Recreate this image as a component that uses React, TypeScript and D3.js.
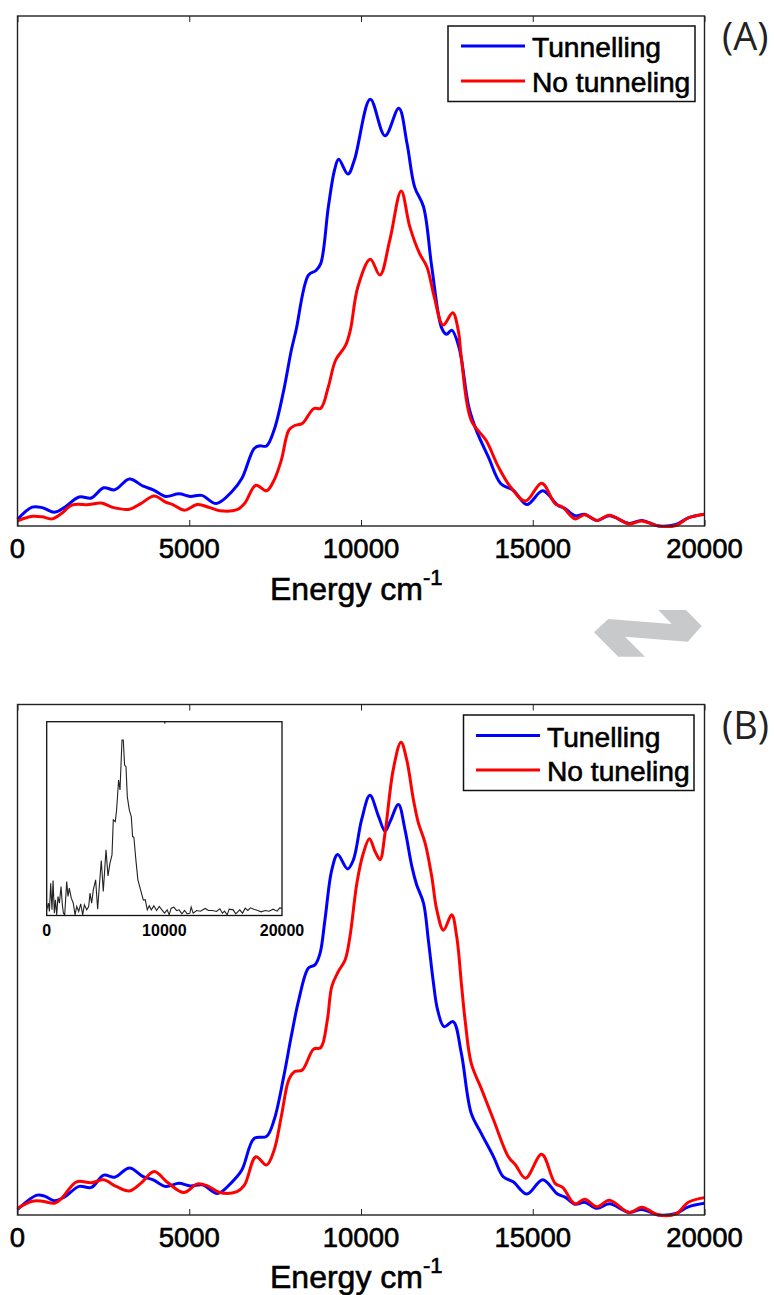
import React, { useEffect, useRef } from "react";
import * as d3 from "d3";

const xTicks = [0, 5000, 10000, 15000, 20000];
const insetTicks = [0, 10000, 20000];

const blueAEnergy = [0, 430, 720, 1080, 1360, 1795, 2150, 2510, 2830, 3260, 3660, 3950, 4310, 4700, 5030, 5360, 5790, 6250, 6530, 6890, 7040, 7250, 7470, 7750, 7970, 8110, 8470, 8690, 8830, 9050, 9230, 9350, 9620, 9810, 10270, 10700, 11100, 11340, 11560, 11820, 12060, 12350, 12490, 12640, 12850, 13140, 13355, 13710, 14070, 14430, 14830, 15290, 15720, 15940, 16230, 16510, 16870, 17230, 17810, 18170, 18670, 19170, 19530, 20000];
const blueAValue = [.013, .037, .036, .027, .036, .057, .055, .075, .071, .092, .078, .071, .058, .063, .058, .06, .044, .068, .093, .152, .157, .157, .188, .266, .344, .384, .492, .501, .515, .626, .698, .719, .69, .718, .837, .765, .819, .75, .665, .626, .508, .388, .376, .384, .351, .233, .188, .135, .083, .07, .042, .069, .041, .034, .02, .023, .011, .02, .005, .011, 0, .003, .016, .023];

const redAEnergy = [0, 430, 720, 1005, 1290, 1580, 2080, 2440, 2800, 3260, 3590, 3980, 4310, 4520, 4850, 5240, 5600, 5890, 6390, 6610, 6940, 7250, 7470, 7680, 7900, 8070, 8290, 8620, 8830, 9050, 9260, 9550, 9690, 9910, 10270, 10550, 10840, 11170, 11420, 11700, 11920, 12130, 12390, 12670, 12830, 12920, 13210, 13640, 14000, 14360, 14790, 15260, 15650, 15870, 16230, 16510, 16870, 17230, 17810, 18170, 18670, 19170, 19530, 20000];
const redAValue = [.01, .019, .018, .014, .025, .041, .042, .045, .036, .033, .044, .059, .047, .042, .031, .042, .036, .03, .032, .044, .08, .069, .09, .129, .188, .197, .201, .23, .231, .273, .325, .354, .384, .469, .523, .492, .561, .657, .587, .535, .508, .45, .394, .418, .384, .331, .207, .168, .116, .076, .049, .084, .044, .037, .014, .022, .011, .021, .004, .01, 0, .001, .016, .023];

const blueBEnergy = [0, 570, 790, 1080, 1360, 1795, 2150, 2510, 2830, 3260, 3660, 3950, 4310, 4700, 5030, 5390, 5820, 6250, 6530, 6890, 7250, 7470, 7750, 7970, 8190, 8470, 8660, 8810, 8950, 9150, 9320, 9610, 9780, 10020, 10260, 10510, 10700, 10850, 11090, 11280, 11480, 11620, 11820, 11960, 12110, 12230, 12420, 12680, 12920, 13210, 13500, 13860, 14140, 14430, 14830, 15290, 15720, 15940, 16230, 16510, 16870, 17230, 17810, 18170, 18670, 19170, 19530, 20000];
const blueBValue = [.011, .039, .037, .028, .035, .056, .054, .078, .074, .092, .075, .069, .056, .062, .057, .059, .042, .065, .088, .15, .154, .186, .271, .35, .422, .484, .49, .513, .578, .676, .706, .678, .696, .775, .822, .781, .752, .771, .804, .755, .683, .647, .611, .539, .454, .402, .369, .379, .317, .199, .16, .114, .075, .065, .041, .069, .041, .035, .021, .025, .013, .022, .005, .011, 0, .003, .016, .023];

const redBEnergy = [0, 430, 720, 1080, 1290, 1720, 2150, 2510, 2870, 3260, 3590, 3980, 4380, 4840, 5240, 5530, 5890, 6390, 6610, 6940, 7250, 7470, 7680, 7900, 8070, 8290, 8620, 8830, 9020, 9150, 9340, 9540, 9680, 9880, 10070, 10245, 10410, 10555, 10700, 10940, 11165, 11330, 11525, 11670, 11865, 12060, 12205, 12400, 12640, 12785, 12930, 13030, 13210, 13500, 13860, 14290, 14500, 14790, 15260, 15650, 15870, 16230, 16510, 16870, 17230, 17810, 18170, 18670, 19170, 19530, 20000];
const redBValue = [.013, .027, .027, .023, .033, .065, .063, .069, .056, .047, .062, .085, .063, .044, .061, .057, .044, .046, .059, .114, .098, .127, .193, .265, .281, .284, .325, .328, .382, .448, .477, .5, .546, .65, .709, .737, .712, .696, .748, .873, .926, .892, .814, .768, .729, .663, .598, .558, .588, .546, .448, .382, .297, .248, .186, .114, .098, .072, .119, .062, .054, .022, .031, .016, .029, .005, .015, 0, .002, .025, .034];

const insetEnergy = [0, 140, 230, 340, 450, 540, 650, 740, 850, 960, 1080, 1220, 1330, 1420, 1530, 1700, 1810, 1920, 2090, 2260, 2410, 2550, 2720, 2890, 3060, 3200, 3400, 3570, 3680, 3820, 3960, 4160, 4330, 4470, 4640, 4810, 5040, 5210, 5380, 5550, 5660, 5830, 5940, 6110, 6230, 6400, 6510, 6620, 6740, 6850, 7020, 7190, 7300, 7410, 7580, 7750, 7980, 8210, 8380, 8550, 8720, 8890, 9110, 9340, 9570, 9790, 10020, 10240, 10410, 10580, 10810, 11040, 11260, 11490, 11720, 11940, 12170, 12280, 12450, 12740, 13070, 13470, 13750, 14090, 14430, 14720, 14940, 15110, 15340, 15510, 15850, 16070, 16410, 16640, 16870, 17090, 17320, 17600, 17940, 18230, 18560, 18900, 19240, 19580, 19810, 20000];
const insetValue = [17, 37, 12, 97, 17, 105, 7, 47, 2, 57, 37, 87, 32, 7, 2, 102, 57, 82, 52, 37, 2, 27, 12, 35, 2, 32, 17, 27, 67, 37, 77, 107, 19, 87, 165, 72, 197, 119, 157, 182, 287, 282, 317, 407, 377, 527, 527, 452, 447, 357, 317, 297, 237, 235, 167, 107, 77, 47, 47, 17, 29, 17, 29, 15, 27, 17, 7, 17, 2, 22, 25, 15, 17, 5, 15, 5, 7, 25, 7, 15, 13, 21, 15, 15, 12, 20, 7, 13, 2, 19, 17, 5, 17, 7, 22, 15, 23, 19, 15, 11, 15, 13, 19, 13, 23, 22];

const legendA = ["Tunnelling", "No tunneling"];
const legendB = ["Tunelling", "No tuneling"];
const BLUE = "#0000ff";
const RED = "#ff0000";
const FRAME = "#222";
const SANS = "'Liberation Sans', Arial, sans-serif";

type Panel = {
  top: number;
  bottom: number;
  blue: [number[], number[]];
  red: [number[], number[]];
  legend: string[];
  box: number[];
  lineX: number[];
  textX: number;
  rows: number[];
  tag: string;
  tickY: number;
  labelY: number;
};

const panels: Panel[] = [
  { top: 16, bottom: 526, blue: [blueAEnergy, blueAValue], red: [redAEnergy, redAValue], legend: legendA, box: [448, 26, 695, 101.5], lineX: [461, 525], textX: 532, rows: [46, 81], tag: "(A)", tickY: 558, labelY: 600 },
  { top: 704.5, bottom: 1215, blue: [blueBEnergy, blueBValue], red: [redBEnergy, redBValue], legend: legendB, box: [463.5, 715, 694, 790.5], lineX: [476, 540], textX: 547, rows: [735.5, 770], tag: "(B)", tickY: 1247, labelY: 1288 },
];

function App() {
  const svgRef = useRef<SVGSVGElement>(null);

  useEffect(() => {
    const svg = d3.select(svgRef.current);
    svg.selectAll("*").remove();

    const x = d3.scaleLinear().domain([0, 20000]).range([17.5, 704.5]);

    panels.forEach((p) => {
      const y = d3.scaleLinear().domain([0, 1]).range([p.bottom, p.top]);
      const g = svg.append("g");
      const line = d3.line<number>()
        .x((d) => x(d))
        .curve(d3.curveCatmullRom.alpha(0.5));

      [[p.blue, BLUE], [p.red, RED]].forEach(([s, color]: any) => {
        line.y((_, i) => y(s[1][i]));
        g.append("path").attr("d", line(s[0])).attr("fill", "none")
          .attr("stroke", color).attr("stroke-width", 3);
      });

      g.append("rect")
        .attr("x", x(0)).attr("y", p.top)
        .attr("width", x(20000) - x(0)).attr("height", p.bottom - p.top)
        .attr("fill", "none").attr("stroke", FRAME).attr("stroke-width", 1.4);

      const bottomAxis = g.append("g").attr("transform", `translate(0,${p.bottom})`)
        .call(d3.axisBottom(x).tickValues(xTicks).tickSize(-6).tickFormat(d3.format("d")));
      bottomAxis.select(".domain").remove();
      bottomAxis.selectAll("line").attr("stroke", FRAME);
      bottomAxis.selectAll("text").remove();

      const topAxis = g.append("g").attr("transform", `translate(0,${p.top})`)
        .call(d3.axisTop(x).tickValues(xTicks).tickSize(-6).tickFormat(() => ""));
      topAxis.select(".domain").remove();
      topAxis.selectAll("line").attr("stroke", FRAME);

      xTicks.forEach((t) => {
        g.append("text").attr("x", x(t)).attr("y", p.tickY)
          .attr("text-anchor", "middle").attr("font-family", SANS)
          .attr("font-size", 27.5).attr("stroke", "#000").attr("stroke-width", 0.6)
          .text(t);
      });

      const label = g.append("text").attr("x", 270).attr("y", p.labelY)
        .attr("font-family", SANS).attr("font-size", 32)
        .attr("stroke", "#000").attr("stroke-width", 0.6)
        .text("Energy cm");
      label.append("tspan").attr("font-size", 22).attr("dy", -15).text("-1");

      const [bx0, by0, bx1, by1] = p.box;
      g.append("rect").attr("x", bx0).attr("y", by0)
        .attr("width", bx1 - bx0).attr("height", by1 - by0)
        .attr("fill", "#fff").attr("stroke", "#111").attr("stroke-width", 1.5);

      p.legend.forEach((name, i) => {
        g.append("line")
          .attr("x1", p.lineX[0]).attr("x2", p.lineX[1])
          .attr("y1", p.rows[i]).attr("y2", p.rows[i])
          .attr("stroke", i === 0 ? BLUE : RED).attr("stroke-width", 3);
        g.append("text").attr("x", p.textX).attr("y", p.rows[i] + 11)
          .attr("font-family", SANS).attr("font-size", 28.2)
          .attr("stroke", "#000").attr("stroke-width", 0.6)
          .text(name);
      });

      g.append("text").attr("x", 722).attr("y", p.top + 34)
        .attr("font-family", "'Open Sans', sans-serif").attr("font-size", 38)
        .attr("fill", "#222").text(p.tag);
    });

    // inset of panel B
    const ix = d3.scaleLinear().domain([0, 20000]).range([46.7, 282]);
    const iy = d3.scaleLinear().domain([0, 582]).range([915.5, 721.7]);
    const inset = svg.append("g");
    const insetLine = d3.line<number>()
      .x((d) => ix(d))
      .y((_, i) => iy(insetValue[i]));
    inset.append("rect").attr("x", ix(0)).attr("y", iy(582))
      .attr("width", ix(20000) - ix(0)).attr("height", iy(0) - iy(582))
      .attr("fill", "#fff").attr("stroke", "#111").attr("stroke-width", 1.3);
    inset.append("path").attr("d", insetLine(insetEnergy)).attr("fill", "none")
      .attr("stroke", "#222").attr("stroke-width", 1.1);
    const insetTop = inset.append("g").attr("transform", `translate(0,${iy(582)})`)
      .call(d3.axisTop(ix).tickValues([10000]).tickSize(-2).tickFormat(() => ""));
    insetTop.select(".domain").remove();
    insetTicks.forEach((t) => {
      inset.append("text").attr("x", ix(t)).attr("y", 936)
        .attr("text-anchor", "middle").attr("font-family", SANS)
        .attr("font-size", 16).attr("font-weight", "bold").text(t);
    });

    // grey double arrow between the panels
    svg.append("polygon")
      .attr("points", "594,632.3 608.3,619 671.7,624 658.3,610 686,610 701.7,626 687.7,641.7 625,636.7 645,656.7 618.3,656.7")
      .attr("fill", "#c8c9ca");
  }, []);

  return (
    <svg
      ref={svgRef}
      width={774}
      height={1295}
      style={{ position: "absolute", left: 0, top: 0, background: "#fff" }}
    />
  );
}

export default App;
